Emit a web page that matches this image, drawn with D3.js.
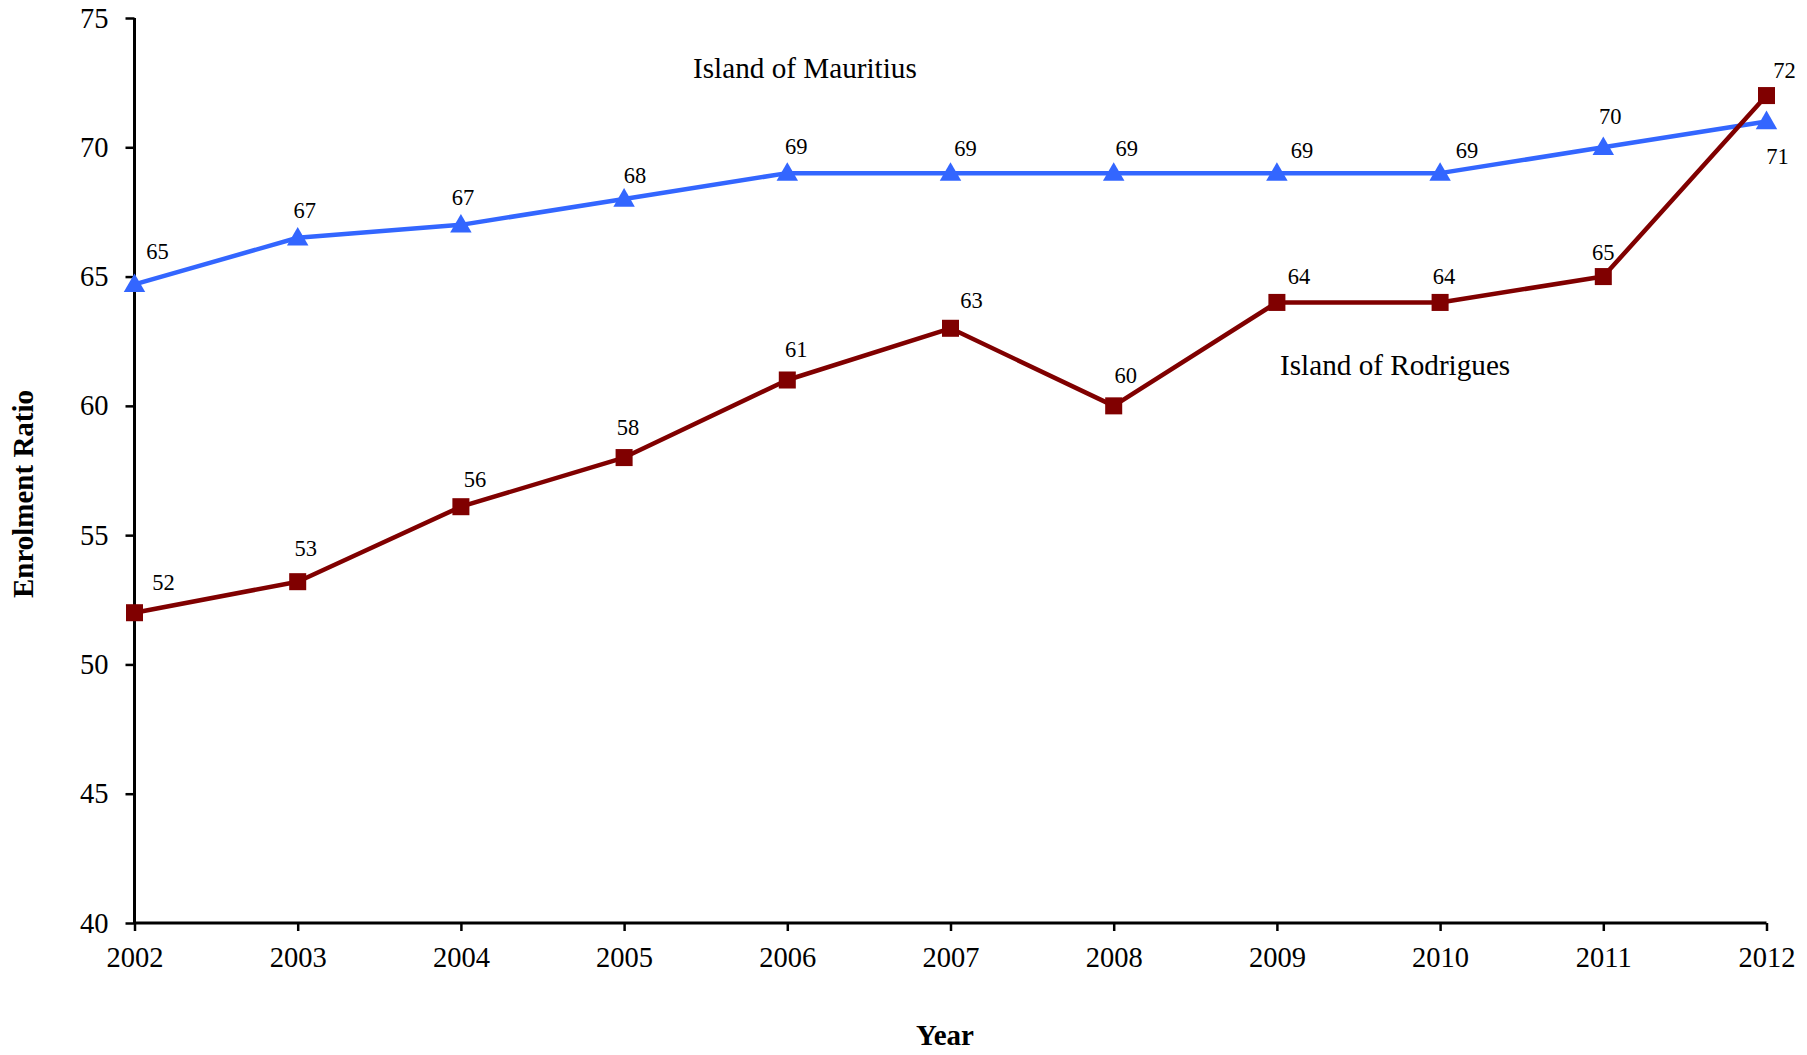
<!DOCTYPE html>
<html>
<head>
<meta charset="utf-8">
<script src="https://cdn.jsdelivr.net/npm/d3@7"></script>
<style>
  html, body { margin: 0; padding: 0; background: #fff; }
  svg { display: block; }
  text { font-family: "Liberation Serif", "Times New Roman", serif; fill: #000; }
</style>
</head>
<body>
<svg id="chart" width="1807" height="1055"></svg>
<script>
// ---- data ----
const years = [2002, 2003, 2004, 2005, 2006, 2007, 2008, 2009, 2010, 2011, 2012];
const mauritius = [64.7, 66.5, 67, 68, 69, 69, 69, 69, 69, 70, 71];
const mauritiusLabels = ["65", "67", "67", "68", "69", "69", "69", "69", "69", "70", "71"];
const rodrigues = [52, 53.2, 56.1, 58, 61, 63, 60, 64, 64, 65, 72];
const rodriguesLabels = ["52", "53", "56", "58", "61", "63", "60", "64", "64", "65", "72"];
const yTicks = [40, 45, 50, 55, 60, 65, 70, 75];
const seriesNames = ["Island of Mauritius", "Island of Rodrigues"];
const axisTitles = { x: "Year", y: "Enrolment Ratio" };

// label placement (pixel offsets from each marker, label centre)
const mauritiusLabelShift = [[23,-33],[7,-28],[2,-28],[11,-24],[9,-27],[15,-25],[13,-25],[25,-23],[27,-23],[7,-31],[11,35]];
const rodriguesLabelShift = [[29,-31],[8,-34],[14,-28],[4,-30],[9,-31],[21,-28],[12,-31],[22,-26],[4,-26],[0,-24],[18,-25]];

// ---- layout ----
const svg = d3.select("#chart");
const plotLeft = 134.5, plotRight = 1766.5, plotTop = 18, plotBottom = 923;

const x = d3.scaleLinear().domain([2002, 2012]).range([plotLeft, plotRight]);
const y = d3.scaleLinear().domain([40, 75]).range([plotBottom, plotTop]);

// axes
const yAxis = d3.axisLeft(y).tickValues(yTicks).tickSize(9).tickPadding(17);
const xAxis = d3.axisBottom(x).tickValues(years).tickFormat(d3.format("d")).tickSize(8).tickPadding(16);

const gy = svg.append("g").attr("transform", `translate(${plotLeft},0)`).call(yAxis);
const gx = svg.append("g").attr("transform", `translate(0,${plotBottom})`).call(xAxis);

[gx, gy].forEach(g => {
  g.select(".domain").attr("stroke", "#000").attr("stroke-width", 3);
  g.selectAll(".tick line").attr("stroke", "#000").attr("stroke-width", 2.5);
  g.selectAll(".tick text")
    .style("font-family", '"Liberation Serif", "Times New Roman", serif')
    .style("font-size", "28.5px")
    .attr("fill", "#000");
});
gx.select(".domain").attr("d", `M${plotLeft},0H${plotRight}`);
gy.select(".domain").attr("d", `M0,${plotBottom}V${plotTop}`);

// axis titles
svg.append("text")
  .attr("x", 945).attr("y", 1045)
  .attr("text-anchor", "middle")
  .style("font-size", "29px").style("font-weight", "bold")
  .text(axisTitles.x);
svg.append("text")
  .attr("transform", "translate(33,494) rotate(-90)")
  .attr("text-anchor", "middle")
  .style("font-size", "29px").style("font-weight", "bold")
  .text(axisTitles.y);

// series
const line = d3.line().x((d, i) => x(years[i])).y(d => y(d));

function drawSeries(values, labels, shifts, color, symbolType) {
  svg.append("path")
    .datum(values)
    .attr("d", line)
    .attr("fill", "none")
    .attr("stroke", color)
    .attr("stroke-width", 4.5)
    .attr("stroke-linejoin", "round");
  const sym = d3.symbol().type(symbolType).size(symbolType === d3.symbolSquare ? 290 : 200);
  svg.append("g").selectAll("path")
    .data(values)
    .join("path")
    .attr("d", sym)
    .attr("transform", (d, i) => `translate(${x(years[i])},${y(d) + (symbolType === d3.symbolTriangle ? 1.5 : 0)})`)
    .attr("fill", color);
  svg.append("g").selectAll("text")
    .data(values)
    .join("text")
    .attr("x", (d, i) => x(years[i]) + shifts[i][0])
    .attr("y", (d, i) => y(d) + shifts[i][1])
    .attr("dy", "0.35em")
    .attr("text-anchor", "middle")
    .style("font-size", "22.5px")
    .text((d, i) => labels[i]);
}

drawSeries(mauritius, mauritiusLabels, mauritiusLabelShift, "#3366FF", d3.symbolTriangle);
drawSeries(rodrigues, rodriguesLabels, rodriguesLabelShift, "#800000", d3.symbolSquare);

// series names
svg.append("text").attr("x", 693).attr("y", 78)
  .style("font-size", "29.2px").text(seriesNames[0]);
svg.append("text").attr("x", 1280).attr("y", 375)
  .style("font-size", "29.2px").text(seriesNames[1]);
</script>
</body>
</html>
